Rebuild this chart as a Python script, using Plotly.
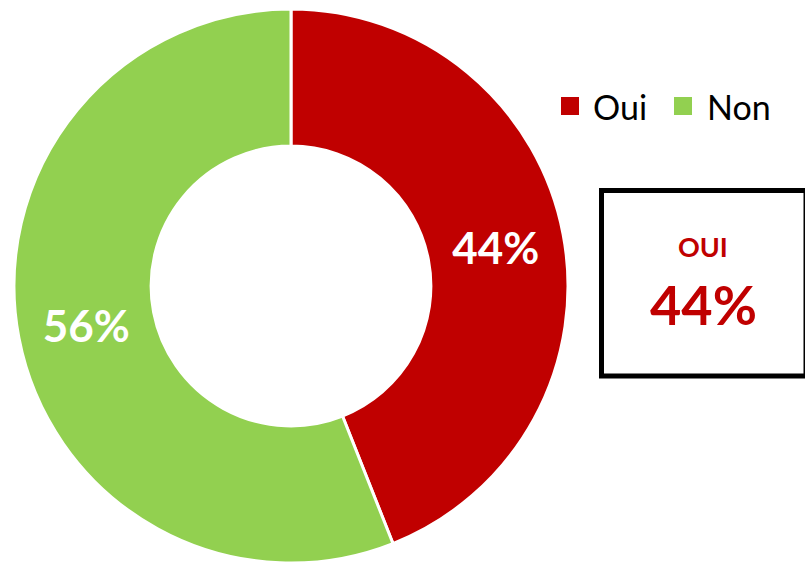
import plotly.graph_objects as go

labels = ["Oui", "Non"]
values = [44, 56]
colors = ["#C00000", "#92D050"]
box_title = "OUI"
box_value = "44%"

W, H = 805, 566


def px(x):
    return x / W


def py(y):
    return 1 - y / H


cx, cy, r = 291, 286, 277

fig = go.Figure(go.Pie(
    labels=labels, values=values, hole=0.505, sort=False,
    direction="clockwise", rotation=0,
    marker=dict(colors=colors, line=dict(color="white", width=3)),
    textinfo="percent", texttemplate="%{percent:.0%}",
    textposition="inside", insidetextorientation="horizontal",
    textfont=dict(family="Lato", size=44, color="white", weight="bold"),
    domain=dict(x=[px(cx - r), px(cx + r)], y=[py(cy + r), py(cy - r)]),
    hoverinfo="label+percent", showlegend=False,
))

# custom legend (squares + labels)
leg_sq_x = [561, 674]
leg_txt_x = [591, 705]
for lab, col, sx, tx in zip(labels, colors, leg_sq_x, leg_txt_x):
    fig.add_shape(type="rect", xref="paper", yref="paper",
                  x0=px(sx), x1=px(sx + 18), y0=py(115), y1=py(97),
                  line=dict(width=0), fillcolor=col)
    fig.add_annotation(x=px(tx), y=py(106), xref="paper", yref="paper",
                       text=lab, showarrow=False, xanchor="left", yanchor="middle",
                       font=dict(family="Lato", size=34, color="black"))

# summary box
fig.add_shape(type="rect", xref="paper", yref="paper",
              x0=px(601.5), x1=px(806), y0=py(376), y1=py(190.5),
              line=dict(color="black", width=5), fillcolor="white", layer="below")
fig.add_annotation(x=px(703), y=py(246), xref="paper", yref="paper",
                   text=box_title, showarrow=False, xanchor="center", yanchor="middle",
                   font=dict(family="Lato", size=27, color="#C00000", weight="bold"))
fig.add_annotation(x=px(703), y=py(304), xref="paper", yref="paper",
                   text=box_value, showarrow=False, xanchor="center", yanchor="middle",
                   font=dict(family="Lato", size=54, color="#C00000", weight="bold"))

fig.update_layout(
    width=W, height=H, margin=dict(l=0, r=0, t=0, b=0),
    paper_bgcolor="white", plot_bgcolor="white", showlegend=False,
)

fig.write_html("out.html", config={"displayModeBar": False},
               post_script="document.body.style.margin='0';document.body.style.overflow='hidden';")
